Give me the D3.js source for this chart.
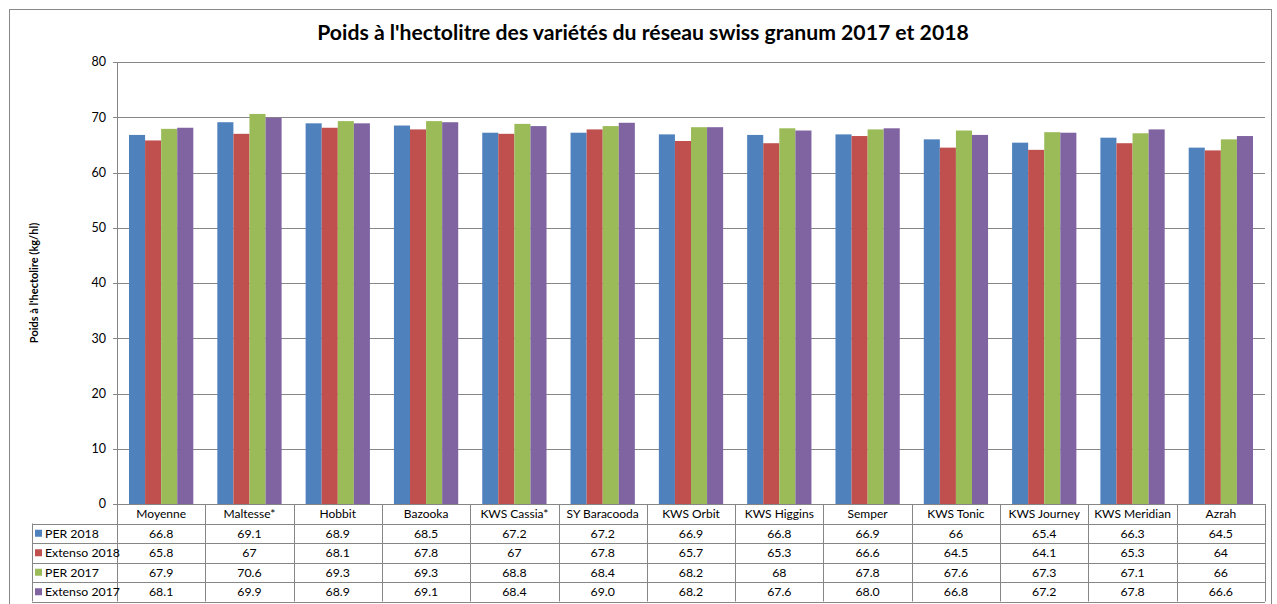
<!DOCTYPE html>
<html><head><meta charset="utf-8">
<script src="https://cdn.jsdelivr.net/npm/d3@7"></script>
<style>body{margin:0;background:#fff;}svg{display:block;font-family:Lato,"Liberation Sans",Arial,sans-serif;}</style>
</head><body>
<svg id="c" width="1277" height="604"></svg>
<script>
const categories = ["Moyenne","Maltesse*","Hobbit","Bazooka","KWS Cassia*","SY Baracooda","KWS Orbit","KWS Higgins","Semper","KWS Tonic","KWS Journey","KWS Meridian","Azrah"];
const seriesNames = ["PER 2018","Extenso 2018","PER 2017","Extenso 2017"];
const per2018 = [66.8,69.1,68.9,68.5,67.2,67.2,66.9,66.8,66.9,66,65.4,66.3,64.5];
const extenso2018 = [65.8,67,68.1,67.8,67,67.8,65.7,65.3,66.6,64.5,64.1,65.3,64];
const per2017 = [67.9,70.6,69.3,69.3,68.8,68.4,68.2,68,67.8,67.6,67.3,67.1,66];
const extenso2017 = [68.1,69.9,68.9,69.1,68.4,69.0,68.2,67.6,68.0,66.8,67.2,67.8,66.6];
const tableLabels = [
 ["66.8","69.1","68.9","68.5","67.2","67.2","66.9","66.8","66.9","66","65.4","66.3","64.5"],
 ["65.8","67","68.1","67.8","67","67.8","65.7","65.3","66.6","64.5","64.1","65.3","64"],
 ["67.9","70.6","69.3","69.3","68.8","68.4","68.2","68","67.8","67.6","67.3","67.1","66"],
 ["68.1","69.9","68.9","69.1","68.4","69.0","68.2","67.6","68.0","66.8","67.2","67.8","66.6"]];
const yTicks = [0,10,20,30,40,50,60,70,80];
const colors = ["#4F81BD","#C0504D","#9BBB59","#8064A2"];
const title = "Poids à l'hectolitre des variétés du réseau swiss granum 2017 et 2018";
const yTitle = "Poids à l'hectolire (kg/hl)";

const series = [per2018, extenso2018, per2017, extenso2017];
const svg = d3.select("#c");
const L = 117, R = 1265, T = 62, B = 504;
const gridC = "#868686";

// outer border
svg.append("rect").attr("x",9.5).attr("y",9.5).attr("width",1262).attr("height",620)
  .attr("fill","none").attr("stroke","#888").attr("stroke-width",1);

const x = d3.scaleBand().domain(categories).range([L,R]).paddingInner(0.272).paddingOuter(0.136);
const xs = d3.scaleBand().domain(d3.range(4)).range([0,x.bandwidth()]);
const y = d3.scaleLinear().domain([0,80]).range([B,T]);

// gridlines
svg.append("g").selectAll("line").data(yTicks).join("line")
  .attr("x1",L-4).attr("x2",R).attr("y1",d=>Math.round(y(d))+0.5).attr("y2",d=>Math.round(y(d))+0.5)
  .attr("stroke",gridC).attr("stroke-width",1);
// y axis line
svg.append("line").attr("x1",L+0.5).attr("x2",L+0.5).attr("y1",T).attr("y2",B).attr("stroke",gridC);

// y tick labels
svg.append("g").selectAll("text").data(yTicks).join("text")
  .attr("x",L-11).attr("y",d=>y(d)).attr("dy","0.35em").attr("text-anchor","end")
  .attr("font-size",12.5).attr("fill","#000").text(d=>d);

// bars
const gb = svg.append("g");
series.forEach((s,si)=>{
  gb.selectAll(null).data(s).join("rect")
    .attr("x",(d,i)=>x(categories[i])+xs(si))
    .attr("y",d=>y(d)).attr("width",xs.bandwidth()).attr("height",d=>B-y(d))
    .attr("fill",colors[si]);
});

// title
svg.append("text").attr("x",643).attr("y",40).attr("text-anchor","middle")
  .attr("font-size",21.2).attr("font-weight","bold").text(title);
// y title
svg.append("text").attr("transform",`translate(38,${(T+B)/2}) rotate(-90)`).attr("text-anchor","middle")
  .attr("font-size",11).attr("font-weight","bold").text(yTitle);

// data table
const rowH = 19.5;
const tLeft = 32;
const step = (R-L)/categories.length;
const tb = svg.append("g").attr("stroke",gridC).attr("fill","none");
const rowYs = d3.range(6).map(i=>B+i*rowH);
tb.selectAll(null).data(rowYs).join("line")
  .attr("x1",(d,i)=>i==0?L:tLeft).attr("x2",R)
  .attr("y1",d=>Math.round(d)+0.5).attr("y2",d=>Math.round(d)+0.5);
const colXs = d3.range(categories.length+1).map(i=>L+i*step);
tb.selectAll(null).data(colXs).join("line")
  .attr("x1",d=>Math.round(d)+0.5).attr("x2",d=>Math.round(d)+0.5)
  .attr("y1",B).attr("y2",B+5*rowH);
tb.append("line").attr("x1",tLeft+0.5).attr("x2",tLeft+0.5).attr("y1",B+rowH).attr("y2",B+5*rowH);

// category labels
svg.append("g").selectAll("text").data(categories).join("text")
  .attr("x",d=>x(d)+x.bandwidth()/2).attr("y",B+rowH/2).attr("dy","0.35em")
  .attr("text-anchor","middle").attr("font-size",12).text(d=>d);
// legend column + values
const lg = svg.append("g");
seriesNames.forEach((n,i)=>{
  const cy = B+rowH*(i+1)+rowH/2;
  lg.append("rect").attr("x",35).attr("y",cy-3.5).attr("width",7).attr("height",7).attr("fill",colors[i]);
  lg.append("text").attr("x",45).attr("y",cy).attr("dy","0.35em").attr("font-size",12.3).text(n);
  lg.selectAll(null).data(tableLabels[i]).join("text")
    .attr("x",(d,j)=>x(categories[j])+x.bandwidth()/2).attr("y",cy).attr("dy","0.35em")
    .attr("text-anchor","middle").attr("font-size",12.3).text(d=>d);
});
</script>
</body></html>
